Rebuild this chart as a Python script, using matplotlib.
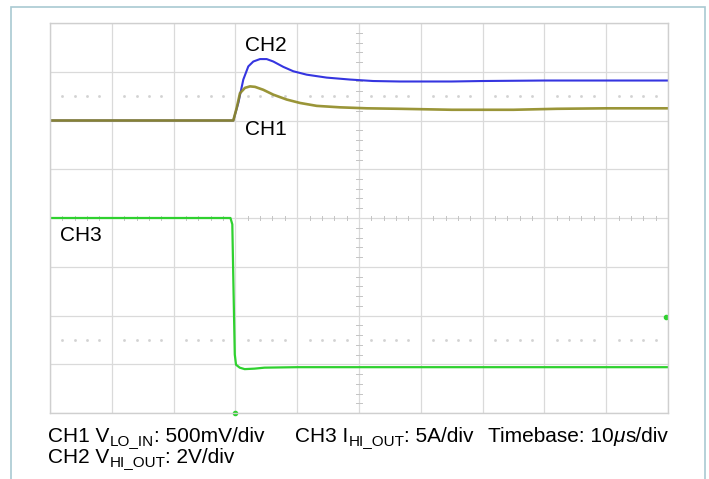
import matplotlib
matplotlib.use("Agg")
import matplotlib.pyplot as plt
from matplotlib.patches import Rectangle

plt.rcParams['font.family'] = ['Liberation Sans', 'DejaVu Sans']

# time in us (10 us/div), values in scope divisions (0..8)
time_ch1 = [0, 29.66, 30.21, 30.74, 31.55, 32.36, 33.17, 34.51, 36.13, 38.3,
            40.45, 43.16, 46.93, 51.25, 56.63, 65, 75, 82, 90, 100]
ch1 = [6.0, 6.0, 6.26, 6.56, 6.67, 6.70, 6.69, 6.63, 6.53, 6.43,
       6.36, 6.30, 6.27, 6.25, 6.24, 6.22, 6.22, 6.24, 6.25, 6.25]

time_ch2 = [0, 29.66, 30.47, 31.28, 32.09, 32.9, 33.98, 35.06, 36.13, 37.75,
            39.37, 41.54, 44.77, 48.54, 52.27, 56.63, 65, 70, 80, 90, 100]
ch2 = [6.0, 6.0, 6.36, 6.84, 7.11, 7.21, 7.26, 7.26, 7.21, 7.10,
       7.01, 6.94, 6.88, 6.84, 6.81, 6.80, 6.80, 6.81, 6.82, 6.82, 6.82]

time_ch3 = [0, 29.2, 29.5, 29.7, 29.9, 30.1, 30.7, 31.5, 33.1, 34.7, 40, 100]
ch3 = [4.0, 4.0, 3.87, 2.5, 1.2, 0.99, 0.93, 0.90, 0.91, 0.93, 0.94, 0.94]

ch3_ref = (99.7, 1.96)
trigger = (30.0, 0.0)

W, H = 709, 479
fig = plt.figure(figsize=(W / 100, H / 100), dpi=100)
fig.patches.append(Rectangle((11 / W, -0.1), (705 - 11) / W, 1.1 - 7 / H,
                             transform=fig.transFigure, fill=False,
                             edgecolor='#a9c9d2', linewidth=1.2))

ax = fig.add_axes([50 / W, (H - 413) / H, 618 / W, 390 / H])
ax.set_xlim(0, 100)
ax.set_ylim(0, 8)
ax.set_xticks(range(0, 101, 10))
ax.set_yticks(range(0, 9))
ax.tick_params(length=0, labelbottom=False, labelleft=False)
ax.grid(True, color='#dadada', linewidth=0.9)
for s in ax.spines.values():
    s.set_color('#cfcfcf')
    s.set_linewidth(1.0)

# center cross tick marks
for t in range(2, 100, 2):
    if t % 10:
        ax.plot([t, t], [3.95, 4.05], color='#c4c4c4', lw=0.7)
for k in range(1, 40):
    if k % 5:
        ax.plot([49.5, 50.5], [k * 0.2, k * 0.2], color='#c4c4c4', lw=0.7)
# dotted level lines
dots = [t for t in range(2, 100, 2) if t % 10]
for lvl in (1.5, 6.5):
    ax.plot(dots, [lvl] * len(dots), ls='none', marker='s', ms=0.9,
            color='#d2d2d2')

ax.plot(time_ch3, ch3, color='#2fd12f', lw=1.6)
ax.plot(time_ch2, ch2, color='#3535e0', lw=1.5)
ax.plot(time_ch1, ch1, color='#8f8a22', lw=1.9, alpha=0.9)
ax.plot(*ch3_ref, marker='o', ms=3, color='#2fd12f')
ax.plot(*trigger, marker='o', ms=3, color='#2fd12f', clip_on=False)

ax.text(31.6, 7.54, 'CH2', fontsize=15, va='center', ha='left')
ax.text(31.6, 5.81, 'CH1', fontsize=15, va='center', ha='left')
ax.text(1.6, 3.64, 'CH3', fontsize=15, va='center', ha='left')

renderer = fig.canvas.get_renderer()


def rich_text(x_px, base_px, parts):
    # parts: (text, size, drop in px, style)
    x = x_px
    for s, size, drop, style in parts:
        t = fig.text(x / W, (H - base_px - drop) / H, s, fontsize=size,
                     fontstyle=style, va='baseline', ha='left')
        x += t.get_window_extent(renderer).width


rich_text(48, 441.7, [('CH1 V', 15, 0, 'normal'), ('LO_IN', 11, 3, 'normal'),
                      (': 500mV/div', 15, 0, 'normal')])
rich_text(295, 441.7, [('CH3 I', 15, 0, 'normal'), ('HI_OUT', 11, 3, 'normal'),
                       (': 5A/div', 15, 0, 'normal')])
rich_text(488, 441.7, [('Timebase: 10', 15, 0, 'normal'),
                       ('\u03bc', 15, 0, 'italic'), ('s/div', 15, 0, 'normal')])
rich_text(48, 462.7, [('CH2 V', 15, 0, 'normal'), ('HI_OUT', 11, 3, 'normal'),
                      (': 2V/div', 15, 0, 'normal')])

fig.savefig('out.png', dpi=100)
